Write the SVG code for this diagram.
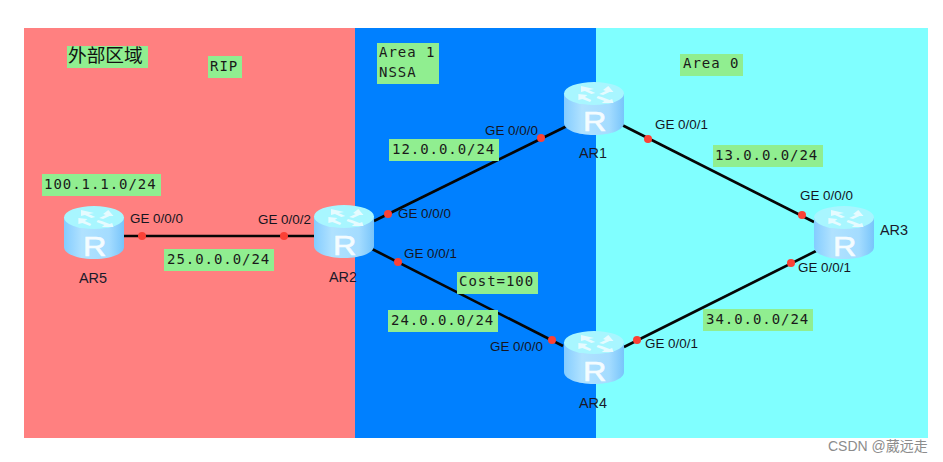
<svg xmlns="http://www.w3.org/2000/svg" width="943" height="462" viewBox="0 0 943 462">
<style>
.lab{fill:#90ee90}
.m{font-family:"DejaVu Sans Mono",monospace;font-size:14px;letter-spacing:0.95px;fill:#1a1a1a}
.cjk{font-family:"Noto Sans CJK SC",sans-serif;font-size:18.7px;fill:#111}
.s{font-family:"Liberation Sans",Arial,sans-serif;font-size:13.4px;fill:#15151f}
.n{font-family:"Liberation Sans",Arial,sans-serif;font-size:14.4px;fill:#1a1a2a}
.lk{stroke:#050505;stroke-width:2.6;fill:none}
.dot{fill:#fb4136}
.r{font-family:"Liberation Sans",Arial,sans-serif;font-size:27px;fill:#f4fcff;stroke:#f4fcff;stroke-width:0.6}
.wm{font-family:"Liberation Sans","Noto Sans CJK SC",sans-serif;font-size:14px;fill:#8c8c8c}
</style>
<defs>
<linearGradient id="body" x1="0" x2="1" y1="0" y2="0">
<stop offset="0" stop-color="#84ccff"/><stop offset="0.3" stop-color="#b0e2ff"/><stop offset="0.75" stop-color="#a4dcff"/><stop offset="1" stop-color="#78c4fa"/>
</linearGradient>
<g id="router">
<path d="M0 11.500V41C0 48 13.500 53 30 53S60 48 60 41V11.500Z" fill="url(#body)"/>
<ellipse cx="30" cy="11.500" rx="30" ry="11.500" fill="#a8f6ff"/>
<g transform="translate(30 12) scale(1.3 1) translate(-30 -12)" fill="#e6fbff">
<path d="M20 4l10 3-4 1 5 3-3 1-5-3-3 1z"/>
<path d="M41 4l4 6-3 0-5 3-3-1 5-3-2-1z"/>
<path d="M18 12l7 1-2 2 5 3-1 2-6-3-3 1z"/>
<path d="M33 14l3 1 6 3 2-1 1 4-9 0 2-2-6-3z"/>
</g>
</g>
</defs>
<rect width="943" height="462" fill="#fff"/>
<rect x="24" y="28" width="331" height="410" fill="#ff8080"/>
<rect x="355" y="28" width="241" height="410" fill="#0080ff"/>
<rect x="596" y="28" width="332" height="410" fill="#80ffff"/>
<g id="connectors">
<path class="lk" d="M124 236H314"/>
<path class="lk" d="M374 221L567 126"/>
<path class="lk" d="M372 249L563 346"/>
<path class="lk" d="M622 125L814 222"/>
<path class="lk" d="M624 347L816 251"/>
<circle class="dot" cx="142" cy="236" r="4"/><circle class="dot" cx="284" cy="236" r="4"/>
<circle class="dot" cx="388" cy="214" r="4"/><circle class="dot" cx="541" cy="138" r="4"/>
<circle class="dot" cx="398" cy="262" r="4"/><circle class="dot" cx="552" cy="340" r="4"/>
<circle class="dot" cx="648" cy="139" r="4"/><circle class="dot" cx="802" cy="215" r="4"/>
<circle class="dot" cx="791" cy="263" r="4"/><circle class="dot" cx="637" cy="340" r="4"/>
</g>
<g id="AR5"><use href="#router" x="64" y="206"/><text class="r" transform="translate(83 256) scale(1.2 1)">R</text><text class="n" x="79" y="283">AR5</text></g>
<g id="AR2"><use href="#router" x="314" y="205"/><text class="r" transform="translate(333 255) scale(1.2 1)">R</text><text class="n" x="329" y="282">AR2</text></g>
<g id="AR1"><use href="#router" x="564" y="82"/><text class="r" transform="translate(583 131) scale(1.2 1)">R</text><text class="n" x="579" y="158">AR1</text></g>
<g id="AR3"><use href="#router" x="814" y="206"/><text class="r" transform="translate(833 256) scale(1.2 1)">R</text><text class="n" x="880" y="235">AR3</text></g>
<g id="AR4"><use href="#router" x="564" y="331"/><text class="r" transform="translate(583 381) scale(1.2 1)">R</text><text class="n" x="579" y="408">AR4</text></g>
<g id="ports">
<text class="s" x="130" y="223">GE 0/0/0</text><text class="s" x="258" y="224">GE 0/0/2</text>
<text class="s" x="485" y="135">GE 0/0/0</text><text class="s" x="398" y="218">GE 0/0/0</text>
<text class="s" x="404" y="258">GE 0/0/1</text><text class="s" x="490" y="351">GE 0/0/0</text>
<text class="s" x="645" y="348">GE 0/0/1</text><text class="s" x="655" y="129">GE 0/0/1</text>
<text class="s" x="800" y="200">GE 0/0/0</text><text class="s" x="798" y="272">GE 0/0/1</text>
</g>
<g id="label-external"><rect class="lab" x="67" y="46" width="81" height="22"/><text class="cjk" x="68" y="62">外部区域</text></g>
<g id="label-rip"><rect class="lab" x="208" y="56" width="34" height="22"/><text class="m" x="210" y="71">RIP</text></g>
<g id="label-100"><rect class="lab" x="42" y="174" width="119" height="22"/><text class="m" x="44" y="189">100.1.1.0/24</text></g>
<g id="label-25"><rect class="lab" x="164" y="249" width="110" height="22"/><text class="m" x="167" y="264">25.0.0.0/24</text></g>
<g id="label-area1"><rect class="lab" x="377" y="43" width="62" height="41"/><text class="m" x="379" y="57">Area 1</text><text class="m" x="379" y="77">NSSA</text></g>
<g id="label-12"><rect class="lab" x="389" y="139" width="110" height="22"/><text class="m" x="392" y="154">12.0.0.0/24</text></g>
<g id="label-cost"><rect class="lab" x="457" y="272" width="81" height="22"/><text class="m" x="459" y="286">Cost=100</text></g>
<g id="label-24"><rect class="lab" x="388" y="310" width="110" height="22"/><text class="m" x="391" y="325">24.0.0.0/24</text></g>
<g id="label-area0"><rect class="lab" x="680" y="54" width="63" height="22"/><text class="m" x="683" y="68">Area 0</text></g>
<g id="label-13"><rect class="lab" x="713" y="145" width="110" height="22"/><text class="m" x="715" y="160">13.0.0.0/24</text></g>
<g id="label-34"><rect class="lab" x="703" y="309" width="110" height="22"/><text class="m" x="706" y="324">34.0.0.0/24</text></g>
<text class="wm" x="828" y="451">CSDN @葳远走</text>
</svg>
